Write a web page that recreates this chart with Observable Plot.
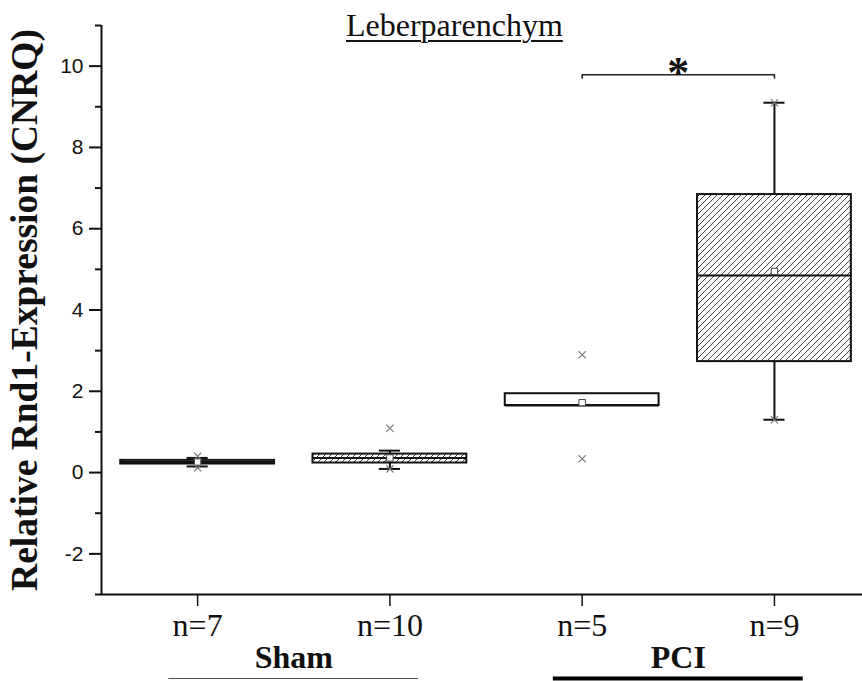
<!DOCTYPE html>
<html>
<head>
<meta charset="utf-8">
<script src="https://cdn.jsdelivr.net/npm/d3@7"></script>
<script src="https://cdn.jsdelivr.net/npm/@observablehq/plot@0.6"></script>
<style>
  body { margin: 0; background: #fff; }
  #wrap { position: relative; width: 862px; height: 681px; }
  #title {
    position: absolute; left: 346px; top: 9px; margin: 0;
    font: 32px "Liberation Serif", "Times New Roman", serif; line-height: 32px;
    text-decoration: underline; text-decoration-thickness: 1.5px; text-underline-offset: 4px;
    color: #111; white-space: nowrap;
  }
</style>
</head>
<body>
<div id="wrap"><div id="title">Leberparenchym</div></div>
<script>
// Relative Rnd1 expression (CNRQ) in liver parenchyma, Sham vs. PCI
const categories = ["n=7", "n=10", "n=5", "n=9"];
const groupOf    = ["Sham", "Sham", "PCI", "PCI"];
const hatched    = [false, true, false, true];
const q1         = [0.21, 0.235, 1.65, 2.73];
const q3         = [0.30, 0.455, 1.94, 6.84];
const medians    = [0.26, 0.36, 1.65, 4.85];
const means      = [0.26, 0.36, 1.72, 4.95];
const whiskerLo  = [0.15, 0.09, null, 1.30];
const whiskerHi  = [0.36, 0.54, null, 9.10];
const minValues  = [0.12, 0.09, 0.34, 1.30];
const maxValues  = [0.40, 1.09, 2.90, 9.10];

const yTicks      = [-2, 0, 2, 4, 6, 8, 10];
const yMinorTicks = [-3, -1, 1, 3, 5, 7, 9, 11];
const yDomain     = [-3, 11];
const yLabel      = "Relative Rnd1-Expression (CNRQ)";

const groupNames   = ["Sham", "PCI"];
const groupCenters = [1.5, 3.5];

// significance bracket between PCI boxes
const bracketFrom = 3, bracketTo = 4, bracketLevel = 9.79, bracketFoot = 9.71, bracketMark = "*";

const boxHalf = 0.4, capHalf = 0.055, barHalf = 0.65;

const boxes = categories.map((c, i) => ({
  x: i + 1, label: c, group: groupOf[i], hatched: hatched[i],
  q1: q1[i], q3: q3[i], median: medians[i], mean: means[i],
  lo: whiskerLo[i], hi: whiskerHi[i]
}));
const whiskered = boxes.filter(d => d.lo != null);
const extremes = boxes.flatMap((d, i) => [{x: d.x, y: minValues[i]}, {x: d.x, y: maxValues[i]}]);
const groupRows = groupNames.map((g, i) => ({name: g, center: groupCenters[i]}));
const bracket = [
  {x: bracketFrom, y: bracketFoot}, {x: bracketFrom, y: bracketLevel},
  {x: bracketTo, y: bracketLevel}, {x: bracketTo, y: bracketFoot}
];

const serif = "'Liberation Serif', 'Times New Roman', serif";
const ink = "#111";

const svg = Plot.plot({
  width: 862, height: 681,
  marginLeft: 101, marginRight: 0, marginTop: 25, marginBottom: 87,
  style: {fontFamily: "'Liberation Sans', Arial, sans-serif", fontSize: "21px", color: ink, background: "#fff"},
  x: {domain: [0.5, 4.458], axis: null},
  y: {domain: yDomain, axis: null},
  marks: [
    // axes
    Plot.axisY(yTicks, {tickSize: 12, tickPadding: 6, strokeWidth: 2, fontSize: 21, tickFormat: d => String(d), label: null}),
    Plot.axisY(yMinorTicks, {tickSize: 6, strokeWidth: 2, tickFormat: () => "", label: null}),
    Plot.axisX([1, 2, 3, 4], {tickSize: 12, tickPadding: 7, strokeWidth: 1.5, tickFormat: i => categories[i - 1],
      fontSize: 32, fontFamily: serif, label: null}),
    Plot.ruleX([0.5], {y1: yDomain[0], y2: yDomain[1], stroke: ink, strokeWidth: 2}),
    Plot.ruleY([yDomain[0]], {stroke: ink, strokeWidth: 2}),
    Plot.text([yLabel], {frameAnchor: "left", textAnchor: "middle", rotate: -90, dx: -77, fontSize: 37.5,
      fontWeight: "bold", fontFamily: serif, fill: ink}),

    // whiskers and caps
    Plot.ruleX(whiskered, {x: "x", y1: "q3", y2: "hi", stroke: ink, strokeWidth: 2}),
    Plot.ruleX(whiskered, {x: "x", y1: "lo", y2: "q1", stroke: ink, strokeWidth: 2}),
    Plot.ruleY(whiskered, {y: "hi", x1: d => d.x - capHalf, x2: d => d.x + capHalf, stroke: ink, strokeWidth: 2}),
    Plot.ruleY(whiskered, {y: "lo", x1: d => d.x - capHalf, x2: d => d.x + capHalf, stroke: ink, strokeWidth: 2}),

    // boxes
    Plot.rect(boxes.filter(d => !d.hatched), {x1: d => d.x - boxHalf, x2: d => d.x + boxHalf, y1: "q1", y2: "q3",
      fill: "white", stroke: ink, strokeWidth: 2}),
    Plot.rect(boxes.filter(d => d.hatched), {x1: d => d.x - boxHalf, x2: d => d.x + boxHalf, y1: "q1", y2: "q3",
      fill: "url(#hatch)", stroke: ink, strokeWidth: 2}),
    Plot.ruleY(boxes, {y: "median", x1: d => d.x - boxHalf, x2: d => d.x + boxHalf, stroke: ink, strokeWidth: 2}),
    Plot.dot(boxes, {x: "x", y: "mean", symbol: "square", r: 3.6, fill: "white", stroke: "#444", strokeWidth: 1}),
    Plot.dot(extremes, {x: "x", y: "y", symbol: "times", r: 3.4, stroke: "#777", strokeWidth: 1.2}),

    // significance bracket
    Plot.line(bracket, {x: "x", y: "y", stroke: "#222", strokeWidth: 1.6}),
    Plot.text([bracketMark], {x: (bracketFrom + bracketTo) / 2, y: bracketLevel, dy: -2, fontSize: 44,
      fontWeight: "bold", fontFamily: serif, fill: ink}),

    // group labels and bars
    Plot.text(groupRows, {x: "center", text: "name", frameAnchor: "bottom", dy: 73, fontSize: 32,
      fontWeight: "bold", fontFamily: serif, fill: ink}),
    Plot.ruleY(groupRows.filter(d => d.name === "Sham"), {y: () => yDomain[0], x1: d => d.center - barHalf,
      x2: d => d.center + barHalf, dy: 84, stroke: "#555", strokeWidth: 1.2}),
    Plot.ruleY(groupRows.filter(d => d.name === "PCI"), {y: () => yDomain[0], x1: d => d.center - barHalf,
      x2: d => d.center + barHalf, dy: 84, stroke: "#000", strokeWidth: 4})
  ]
});

// diagonal hatch fill for the second box of each group
const defs = d3.select(svg).insert("defs", ":first-child");
const pat = defs.append("pattern").attr("id", "hatch").attr("patternUnits", "userSpaceOnUse")
  .attr("width", 6).attr("height", 6);
pat.append("rect").attr("width", 6).attr("height", 6).attr("fill", "white");
pat.append("path").attr("d", "M0,6L6,0M-1.5,1.5L1.5,-1.5M4.5,7.5L7.5,4.5")
  .attr("stroke", "#444").attr("stroke-width", 1);

document.getElementById("wrap").prepend(svg);
</script>
</body>
</html>
